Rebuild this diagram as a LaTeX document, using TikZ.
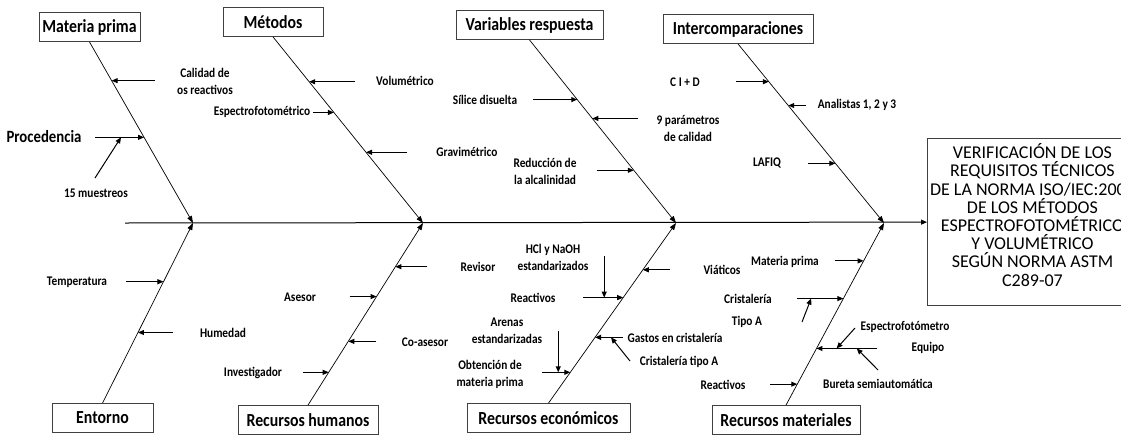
\documentclass[tikz,border=0pt]{standalone}
\usepackage{fontspec}
\setmainfont{Carlito}
\newfontfamily\fishfont{Carlito}[FakeStretch=0.86]
\usetikzlibrary{arrows.meta,calc}

\begin{document}
\begin{tikzpicture}[x=1pt,y=-1pt,
  title/.style={draw=black!75,line width=0.8pt,inner sep=0pt,minimum height=29pt,font=\fishfont\fontsize{18.4}{20}\selectfont\bfseries},
  lbl/.style={inner sep=0pt,align=center,font=\fishfont\fontsize{13.2}{17}\selectfont\bfseries},
  goal/.style={draw=black!75,line width=0.9pt,inner sep=0pt,minimum width=210pt,minimum height=167pt,align=center,font=\fontsize{18}{18.2}\selectfont},
  branch/.style={line width=0.7pt,-{Triangle[length=7pt,width=5pt]}},
  cause/.style={line width=1pt,-{Triangle[length=6pt,width=5pt]}}]
\useasboundingbox (0,0) rectangle (1121,434);

\node[title,minimum width=101pt] (mp) at (89.5,27) {Materia prima};
\node[title,minimum width=100pt] (met) at (273,22) {Métodos};
\node[title,minimum width=147pt] (var) at (529.5,25) {Variables respuesta};
\node[title,minimum width=150pt] (inter) at (738,29) {Intercomparaciones};
\node[title,minimum width=101pt] (ent) at (102.5,418) {Entorno};
\node[title,minimum width=140pt] (rh) at (308,420) {Recursos humanos};
\node[title,minimum width=163pt] (re) at (548.5,418) {Recursos económicos};
\node[title,minimum width=148pt] (rm) at (786,420) {Recursos materiales};
\node[goal,anchor=west] (goal) at (927,222) {VERIFICACIÓN DE LOS\\REQUISITOS TÉCNICOS\\DE LA NORMA ISO/IEC:2005\\DE LOS MÉTODOS\\ESPECTROFOTOMÉTRICO\\Y VOLUMÉTRICO\\SEGÚN NORMA ASTM\\C289-07\\[-4pt]\mbox{}};

\coordinate (tail) at (125,223);
\coordinate (j1) at (193,223);
\coordinate (j2) at (423,223);
\coordinate (j3) at (676,223);
\coordinate (j4) at (884,223);
\draw[cause] (tail) -- (goal);

\draw[branch] (mp.south) -- coordinate[pos=.214] (mp1) coordinate[pos=.527] (mp2) (j1);
\draw[branch] (met.south) -- coordinate[pos=.241] (met1) coordinate[pos=.406] (met2) coordinate[pos=.62] (met3) (j2);
\draw[branch] (var.south) -- coordinate[pos=.326] (var1) coordinate[pos=.429] (var2) coordinate[pos=.712] (var3) (j3);
\draw[branch] (inter.south) -- coordinate[pos=.211] (int1) coordinate[pos=.344] (int2) coordinate[pos=.667] (int3) (j4);
\draw[branch] (ent.north) -- coordinate[pos=.392] (ent1) coordinate[pos=.674] (ent2) (j1);
\draw[branch] (rh.north) -- coordinate[pos=.18] (rh1) coordinate[pos=.35] (rh2) coordinate[pos=.596] (rh3) coordinate[pos=.76] (rh4) (j2);
\draw[branch] (re.north) -- coordinate[pos=.171] (re1) coordinate[pos=.365] (re2) coordinate[pos=.586] (re3) coordinate[pos=.74] (re4) (j3);
\draw[branch] (rm.north) -- coordinate[pos=.115] (rm1) coordinate[pos=.311] (rm2) coordinate[pos=.585] (rm3) coordinate[pos=.792] (rm4) (j4);

\draw[cause] ([xshift=43pt]mp1) -- (mp1);
\draw[cause] ([xshift=-49pt]mp2) -- coordinate[pos=.53] (mp2a) (mp2);
\coordinate (mp2b) at (95,178);
\draw[cause] (mp2b) -- (mp2a);
\node[lbl] (calidad) at (205,81) {Calidad de\\os reactivos};
\node[title,draw=none,font=\fishfont\fontsize{17.2}{20}\selectfont\bfseries] (proced) at (44,137) {Procedencia};
\node[lbl] (muestreos) at (96,193) {15 muestreos};

\draw[cause] ([xshift=46pt]met1) -- (met1);
\draw[cause] ([xshift=-21pt]met2) -- (met2);
\draw[cause] ([xshift=41pt]met3) -- (met3);
\node[lbl] (volum) at (405,81) {Volumétrico};
\node[lbl] (espec) at (262,112) {Espectrofotométrico};
\node[lbl] (gravi) at (467,152) {Gravimétrico};

\draw[cause] ([xshift=-44pt]var1) -- (var1);
\draw[cause] ([xshift=46pt]var2) -- (var2);
\draw[cause] ([xshift=-37pt]var3) -- (var3);
\node[lbl] (silice) at (485,100) {Sílice disuelta};
\node[lbl] (param) at (688,128) {9 parámetros\\de calidad};
\node[lbl] (reduc) at (545,171) {Reducción de\\la alcalinidad};

\draw[cause] ([xshift=-33pt]int1) -- (int1);
\draw[cause] ([xshift=18pt]int2) -- (int2);
\draw[cause] ([xshift=-27pt]int3) -- (int3);
\node[lbl] (cid) at (685,82) {C I + D};
\node[lbl] (analistas) at (857,105) {Analistas 1, 2 y 3};
\node[lbl] (lafiq) at (767,163) {LAFIQ};

\draw[cause] ([xshift=-37pt]ent2) -- (ent2);
\draw[cause] ([xshift=35pt]ent1) -- (ent1);
\node[lbl] (temp) at (77,282) {Temperatura};
\node[lbl] (humedad) at (223,333) {Humedad};

\draw[cause] ([xshift=-26pt]rh1) -- (rh1);
\draw[cause] ([xshift=28pt]rh2) -- (rh2);
\draw[cause] ([xshift=-27pt]rh3) -- (rh3);
\draw[cause] ([xshift=32pt]rh4) -- (rh4);
\node[lbl] (investig) at (253,373) {Investigador};
\node[lbl] (coasesor) at (425,342) {Co-asesor};
\node[lbl] (asesor) at (300,297) {Asesor};
\node[lbl] (revisor) at (478,267) {Revisor};

\draw[cause] ([xshift=-28pt]re1) -- coordinate[pos=.57] (re1a) (re1);
\draw[cause] ([xshift=28pt]re2) -- coordinate[pos=.43] (re2a) (re2);
\draw[cause] ([xshift=-40pt]re3) -- coordinate[pos=.525] (re3a) (re3);
\draw[cause] ([xshift=27pt]re4) -- (re4);
\coordinate (re1b) at (re1a |- 0,331);
\coordinate (re2b) at (630,361);
\coordinate (re3b) at (re3a |- 0,256);
\draw[cause] (re1b) -- (re1a);
\draw[cause] (re2b) -- (re2a);
\draw[cause] (re3b) -- (re3a);
\node[lbl] (obtencion) at (490,374) {Obtención de\\materia prima};
\node[lbl] (arenas) at (507,331) {Arenas\\estandarizadas};
\node[lbl] (hcl) at (553,257) {HCl y NaOH\\estandarizados};
\node[lbl] (reactivos) at (533,298) {Reactivos};
\node[lbl] (viaticos) at (722,270) {Viáticos};
\node[lbl] (gastos) at (675,338) {Gastos en cristalería};
\node[lbl] (cristA) at (679,362) {Cristalería tipo A};

\draw[cause] ([xshift=-27pt]rm1) -- (rm1);
\draw[cause] ([xshift=61pt]rm2) -- coordinate[pos=.34] (rm2a) coordinate[pos=.67] (rm2b) (rm2);
\draw[cause] ([xshift=-46pt]rm3) -- coordinate[pos=.3] (rm3a) (rm3);
\draw[cause] ([xshift=-29pt]rm4) -- (rm4);
\coordinate (bureta0) at (878,370);
\coordinate (espect0) at (855,328);
\coordinate (tipoA0) at (802,322);
\draw[cause] (bureta0) -- (rm2a);
\draw[cause] (espect0) -- (rm2b);
\draw[cause] (tipoA0) -- (rm3a);
\node[lbl] (matprima) at (785,262) {Materia prima};
\node[lbl] (cristal) at (748,299) {Cristalería};
\node[lbl] (tipoA) at (747,322) {Tipo A};
\node[lbl] (espectro) at (905,327) {Espectrofotómetro};
\node[lbl] (equipo) at (928,348) {Equipo};
\node[lbl] (bureta) at (878,384) {Bureta semiautomática};
\node[lbl] (reactivos2) at (723,385) {Reactivos};
\end{tikzpicture}
\end{document}
